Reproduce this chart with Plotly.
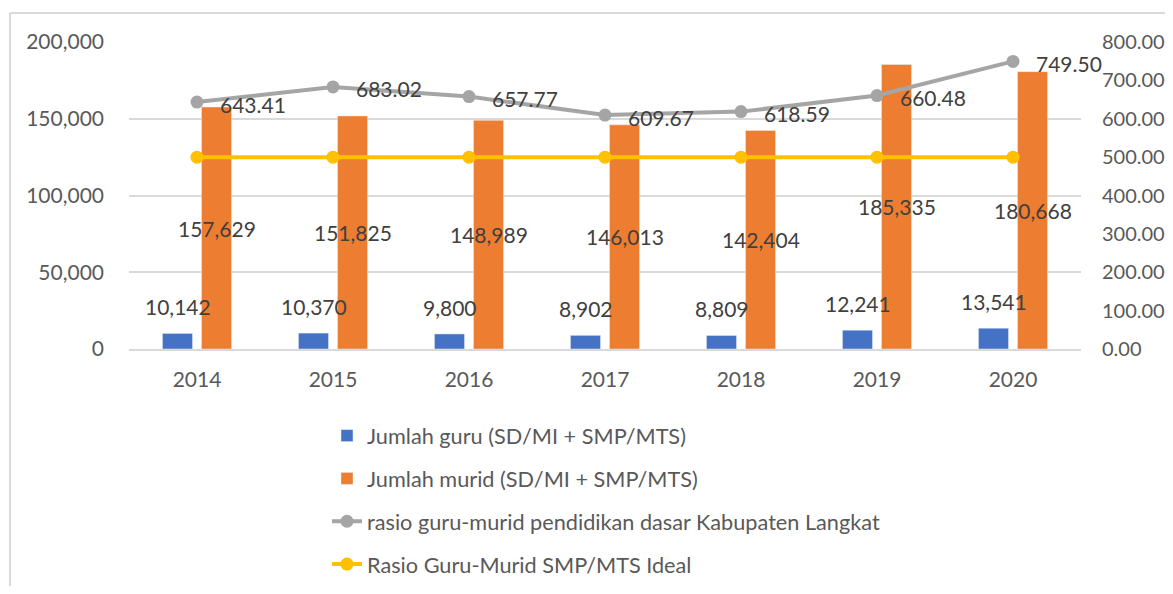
import plotly.graph_objects as go

years = ["2014", "2015", "2016", "2017", "2018", "2019", "2020"]
guru = [10142, 10370, 9800, 8902, 8809, 12241, 13541]
murid = [157629, 151825, 148989, 146013, 142404, 185335, 180668]
rasio = [643.41, 683.02, 657.77, 609.67, 618.59, 660.48, 749.50]
ideal = [500, 500, 500, 500, 500, 500, 500]

name_guru = "Jumlah guru (SD/MI + SMP/MTS)"
name_murid = "Jumlah murid (SD/MI + SMP/MTS)"
name_rasio = "rasio guru-murid pendidikan dasar Kabupaten Langkat"
name_ideal = "Rasio Guru-Murid SMP/MTS Ideal"

BLUE = "#4472C4"
ORANGE = "#ED7D31"
GRAY = "#A5A5A5"
YELLOW = "#FFC000"
TICK = "#595959"
LABEL = "#404040"
GRID = "#D9D9D9"
FONT = "Lato"
FS = 21

# page body has an 8px margin; figure is sized/offset to compensate
OFF = 8
W, H = 1173 - OFF, 594 - 2 * OFF
# plot area in page pixels
PL, PR, PT, PB = 129, 1081, 42, 349
L, R, T, B = PL - OFF, PR - OFF, PT - OFF, PB - OFF

fig = go.Figure()
fig.add_trace(go.Bar(x=years, y=guru, name=name_guru, marker_color=BLUE,
                     legendgroup="a", hoverinfo="y"))
fig.add_trace(go.Bar(x=years, y=murid, name=name_murid, marker_color=ORANGE,
                     legendgroup="b", hoverinfo="y"))
fig.add_trace(go.Scatter(x=years, y=rasio, name=name_rasio, yaxis="y2",
                         mode="lines+markers", legendgroup="c",
                         line=dict(color=GRAY, width=4),
                         marker=dict(color=GRAY, size=13)))
fig.add_trace(go.Scatter(x=years, y=ideal, name=name_ideal, yaxis="y2",
                         mode="lines+markers", legendgroup="d",
                         line=dict(color=YELLOW, width=4),
                         marker=dict(color=YELLOW, size=13)))

ann = []
lf = dict(family=FONT, size=FS, color=LABEL)
for i, v in enumerate(guru):
    ann.append(dict(x=i, y=v, xref="x", yref="y", text=f"{v:,}", showarrow=False,
                    xanchor="center", yanchor="bottom", xshift=-19.5, yshift=12, font=lf))
for i, v in enumerate(murid):
    ann.append(dict(x=i, y=v / 2, xref="x", yref="y", text=f"{v:,}", showarrow=False,
                    xanchor="center", yanchor="middle", xshift=19.5, font=lf))
for i, v in enumerate(rasio):
    ann.append(dict(x=i, y=v, xref="x", yref="y2", text=f"{v:.2f}", showarrow=False,
                    xanchor="left", yanchor="middle", xshift=21, yshift=-2, font=lf))


def px_x(p):
    return (p - PL) / (PR - PL)


def px_y(p):
    return (PB - p) / (PB - PT)


shapes = [
    dict(type="line", xref="paper", yref="paper", x0=px_x(10), x1=px_x(1200),
         y0=px_y(13), y1=px_y(13), line=dict(color=GRID, width=2), layer="below"),
    dict(type="line", xref="paper", yref="paper", x0=px_x(10), x1=px_x(10),
         y0=px_y(13), y1=px_y(620), line=dict(color=GRID, width=2), layer="below"),
]

fig.update_layout(
    width=W, height=H,
    margin=dict(l=L, r=W - R, t=T, b=H - B, autoexpand=False),
    paper_bgcolor="white", plot_bgcolor="white",
    font=dict(family=FONT, size=FS, color=TICK),
    barmode="group", bargap=0.426, bargroupgap=0.23,
    showlegend=True,
    legend=dict(x=px_x(327), y=px_y(415), xanchor="left", yanchor="top",
                orientation="v", tracegroupgap=11.6, traceorder="grouped",
                font=dict(family=FONT, size=21.7, color=TICK),
                bgcolor="rgba(0,0,0,0)"),
    xaxis=dict(type="category", range=[-0.5, len(years) - 0.5], autorange=False,
               automargin=False, showgrid=False, ticks="", showline=True,
               linecolor=GRID, linewidth=2, ticklabelstandoff=11,
               tickfont=dict(family=FONT, size=FS, color=TICK)),
    yaxis=dict(range=[0, 200000], dtick=50000, tickformat=",", showgrid=True,
               gridcolor=GRID, gridwidth=2, zeroline=False, ticks="",
               automargin=False, ticklabelstandoff=24, showline=False,
               tickfont=dict(family=FONT, size=FS, color=TICK)),
    yaxis2=dict(range=[0, 800], dtick=100, tickformat=".2f", overlaying="y",
                side="right", showgrid=False, zeroline=False, ticks="",
                automargin=False, ticklabelstandoff=20, showline=False,
                tickfont=dict(family=FONT, size=20, color=TICK)),
    annotations=ann,
    shapes=shapes,
)

fig.write_html("out.html")
